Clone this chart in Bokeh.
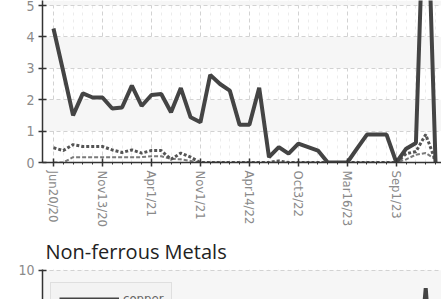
from bokeh.plotting import figure
from bokeh.layouts import column
from bokeh.models import FixedTicker, Range1d, Legend, LegendItem
from bokeh.embed import file_html
from bokeh.resources import INLINE

# ---- data ----
tick_pos = [0, 5, 10, 15, 20, 25, 30, 35]
tick_labels = ["Jun20/20", "Nov13/20", "Apr1/21", "Nov1/21",
               "Apr14/22", "Oct3/22", "Mar16/23", "Sep1/23"]

main_series = [4.27, 2.9, 1.5, 2.2, 2.07, 2.07, 1.72, 1.75, 2.45, 1.8,
               2.15, 2.18, 1.6, 2.37, 1.44, 1.28, 2.79, 2.5, 2.29, 1.2,
               1.2, 2.38, 0.17, 0.49, 0.28, 0.6, 0.49, 0.38, 0.0, 0.0,
               0.0, 0.45, 0.89, 0.89, 0.89, 0.0, 0.44, 0.62, 10.2, 0.0]
dotted_series = [0.47, 0.38, 0.57, 0.51, 0.51, 0.51, 0.40, 0.32, 0.40, 0.30,
                 0.38, 0.38, 0.10, 0.30, 0.17, 0.0, 0.0, 0.0, 0.0, 0.0,
                 0.0, 0.0, 0.0, 0.05, 0.0, 0.0, 0.0, 0.0, 0.0, 0.0,
                 0.0, 0.0, 0.0, 0.0, 0.0, 0.0, 0.28, 0.35, 0.89, 0.05]
dashed_series = [0.0, 0.0, 0.17, 0.17, 0.17, 0.17, 0.17, 0.17, 0.17, 0.17,
                 0.2, 0.2, 0.12, 0.1, 0.05, 0.0, 0.0, 0.0, 0.0, 0.0,
                 0.0, 0.0, 0.0, 0.0, 0.0, 0.0, 0.0, 0.0, 0.0, 0.0,
                 0.0, 0.0, 0.0, 0.0, 0.0, 0.0, 0.1, 0.25, 0.3, 0.1]
copper_series = [1.2, 1.4, 1.3, 1.5, 1.6, 1.4, 1.7, 1.8, 1.6, 1.9,
                 2.0, 1.8, 1.7, 1.9, 1.6, 1.5, 1.7, 1.8, 1.6, 1.4,
                 1.3, 1.5, 1.2, 1.1, 1.3, 1.2, 1.1, 1.0, 0.9, 1.0,
                 1.1, 1.2, 1.3, 1.2, 1.1, 1.0, 1.2, 1.4, 8.8, 0.0]
xs = list(range(len(main_series)))

LABEL_FONT = "'Liberation Sans Narrow', 'DejaVu Sans Condensed', Roboto"
GRID = "#d2d2d2"


def style(p, yticks):
    p.background_fill_color = "white"
    p.border_fill_color = "white"
    p.outline_line_color = None
    p.xaxis.ticker = FixedTicker(ticks=tick_pos,
                                 minor_ticks=[i for i in xs if i % 5])
    p.yaxis.ticker = FixedTicker(ticks=yticks)
    p.xaxis.major_label_overrides = dict(zip(tick_pos, tick_labels))
    for ax in (p.xaxis, p.yaxis):
        ax.axis_line_color = "#333333"
        ax.axis_line_width = 1.5
        ax.major_tick_line_color = "#333333"
        ax.major_tick_line_width = 1.5
        ax.major_tick_in = 4
        ax.major_tick_out = 4
        ax.major_label_text_color = "#8a8a8a"
        ax.major_label_text_font = LABEL_FONT
        ax.major_label_text_font_size = "13px"
        ax.major_label_standoff = 4
    p.yaxis.major_label_text_font_size = "14px"
    p.yaxis.minor_tick_line_color = None
    p.xaxis.minor_tick_line_color = "#333333"
    p.xaxis.minor_tick_in = 0
    p.xaxis.minor_tick_out = 2
    p.xaxis.major_label_orientation = "vertical"
    p.ygrid.grid_line_color = GRID
    p.ygrid.grid_line_dash = "4 3"
    p.ygrid.band_fill_color = "#f6f6f6"
    p.ygrid.band_fill_alpha = 1.0
    p.xgrid.grid_line_color = GRID
    p.xgrid.grid_line_dash = "4 3"
    p.xgrid.minor_grid_line_color = "#ececec"
    p.xgrid.minor_grid_line_dash = "3 4"


XR = (-1.12, 39.61)

p1 = figure(width=441, height=230, output_backend="svg", toolbar_location=None,
            x_range=Range1d(*XR), y_range=Range1d(0, 5.16),
            min_border_left=42, min_border_right=0, min_border_top=0,
            min_border_bottom=10)
style(p1, [0, 1, 2, 3, 4, 5])
p1.line(xs, dashed_series, line_color="#7a7a7a", line_width=2, line_dash="4 2")
p1.line(xs, dotted_series, line_color="#555555", line_width=3, line_dash="3 2")
p1.line(xs, main_series, line_color="#444444", line_width=4)

p2 = figure(width=441, height=69, output_backend="svg", toolbar_location=None,
            x_range=Range1d(*XR), y_range=Range1d(8.05, 10.05),
            min_border_left=42, min_border_right=0, min_border_top=0,
            min_border_bottom=0, title="Non-ferrous Metals")
style(p2, [0, 2, 4, 6, 8, 10])
p2.xaxis.visible = False
p2.title.text_font = "Open Sans"
p2.title.text_font_size = "20px"
p2.title.text_font_style = "normal"
p2.title.text_color = "#222222"
p2.title.offset = 3
cl = p2.line(xs, copper_series, line_color="#444444", line_width=4)
leg = Legend(items=[LegendItem(label="copper", renderers=[cl])],
             location=(8, -16), glyph_width=60, glyph_height=14,
             label_text_font=LABEL_FONT, label_text_font_size="13px",
             label_text_color="#666666", background_fill_color="#f2f2f2",
             border_line_color="#cccccc", padding=8, margin=0,
             label_standoff=4)
p2.add_layout(leg, "center")

layout = column(p1, p2, spacing=0)
open("out.html", "w").write(file_html(layout, INLINE))
